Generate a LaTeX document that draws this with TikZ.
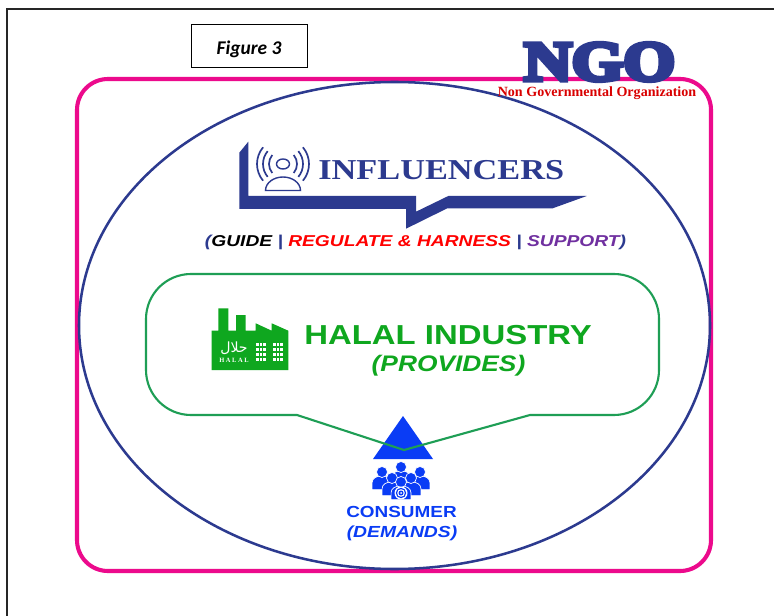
\documentclass[tikz,border=0pt]{standalone}
\usepackage{fontspec}
\setmainfont{Liberation Sans}
\newfontfamily\serfont{Liberation Serif}
\newfontfamily\ngofont[UprightFont=* Bold,FakeBold=8]{Liberation Serif}
\newfontfamily\figfont{Carlito}
\newfontfamily\arabicfont[Script=Arabic]{DejaVu Sans}
\TeXXeTstate=1
\usetikzlibrary{positioning,calc}
\definecolor{inkblue}{HTML}{2C3A8F}
\definecolor{framepink}{HTML}{EC0A8C}
\definecolor{halalgreen}{HTML}{0FA71F}
\definecolor{linegreen}{HTML}{1E9E55}
\definecolor{crowdblue}{HTML}{0A3CF5}
\definecolor{supportviolet}{HTML}{7030A0}
\tikzset{
  bubbletext/.style={inner sep=0pt,xscale=1.19,font=\serfont\bfseries\fontsize{20.5}{21}\selectfont,text=inkblue},
  roletext/.style={inner sep=0pt,xscale=1.22,font=\bfseries\itshape\fontsize{11.2}{12}\selectfont},
  halaltext/.style={inner sep=0pt,xscale=1.2,text=halalgreen,font=\bfseries\fontsize{19.5}{20}\selectfont},
  crowdtext/.style={inner sep=0pt,xscale=1.18,text=crowdblue,font=\bfseries\fontsize{11.4}{12}\selectfont},
}
\begin{document}
\begin{tikzpicture}[x=0.025cm,y=-0.025cm]
\useasboundingbox (0,0) rectangle (774,616);
\fill[white] (0,0) rectangle (774,616);
\draw[line width=1.1pt,black!85] (7,616) -- (7,9) -- (774,9);
\draw[line width=2.9pt,framepink,rounded corners=22pt] (77,79) rectangle (711,571);
\draw[line width=1.8pt,inkblue] (394.5,325.5) ellipse (315.5 and 243.5);
\node[draw,line width=0.6pt,minimum width=82.5pt,minimum height=30pt,inner sep=0pt,text height=12.8pt,text depth=0pt,font=\figfont\bfseries\itshape\fontsize{13.8}{14}\selectfont] (figlabel) at (249,46) {Figure 3};
\node[inner sep=0pt,text=inkblue,xscale=1.18,font=\ngofont\fontsize{40}{40}\selectfont] (ngo) at (599.5,62) {NGO};
\node[inner sep=0pt,text=red!85!black,font=\serfont\bfseries\fontsize{10}{10}\selectfont] (ngosub) at (597,93.5) {Non Governmental Organization};
\fill[inkblue] (239.3,152.7) -- (248.3,141.7) -- (248.3,196) -- (416,196) -- (416,211.7) -- (448.3,196) -- (586.7,196) -- (552.7,208.3) -- (447.3,208.3) -- (406,228.7) -- (406,209) -- (239.3,209) -- cycle;
\draw[inkblue,line width=1pt] (283,164) ellipse (6.5 and 5);
\foreach \rad in {14,20,26}{
  \draw[inkblue,line width=1.2pt] ($(283,164)+(140:\rad)$) arc (140:220:\rad);
  \draw[inkblue,line width=1.2pt] ($(283,164)+(40:\rad)$) arc (40:-40:\rad);
}
\draw[inkblue,line width=1pt,fill=white] (265.5,190.5) arc (180:360:17.5 and 13.5) -- cycle;
\node[bubbletext,anchor=west] (influencers) at (318,170) {INFLUENCERS};
\node[roletext] (roles) at (415.5,242) {\textcolor{inkblue}{(}\textcolor{black}{GUIDE} \textcolor{inkblue}{|} \textcolor{red}{REGULATE \& HARNESS} \textcolor{inkblue}{|} \textcolor{supportviolet}{SUPPORT}\textcolor{inkblue}{)}};
\fill[crowdblue] (403,416) -- (433,459) -- (373,459) -- cycle;
\draw[linegreen,line width=1.5pt] (404,450) -- (530,415) [rounded corners=32pt] -- (659,415) -- (659,274) -- (146,274) -- (146,415) [sharp corners] -- (297,415) -- cycle;
\fill[halalgreen] (211.7,330.7) -- (218.3,330.7) -- (218.3,308.3) -- (228.3,308.3) -- (228.3,330.7) -- (236,330.7) -- (236,315) -- (245.7,315) -- (245.7,330.7) -- (255.7,330.7) -- (255.7,323.3) -- (271.7,330.7) -- (271.7,323.3) -- (288.3,330.7) -- (288.3,370) -- (211.7,370) -- cycle;
\foreach \colx in {256,259.5,263,273,276.5,280}
  \foreach \rowy in {343,348,353,358}
    \fill[white] (\colx,\rowy) rectangle ++(2.6,3.4);
\node[inner sep=0pt,text=white,font=\arabicfont\fontsize{10}{10}\selectfont] (halalword) at (234,348) {\beginR حلال\endR};
\node[inner sep=0pt,text=white,font=\serfont\bfseries\fontsize{4.6}{5}\selectfont] (halalsmall) at (234,360.5) {H A L A L};
\node[halaltext,anchor=west] (industry) at (304,335) {HALAL INDUSTRY};
\node[halaltext,xscale=0.975,font=\bfseries\itshape\fontsize{16}{17}\selectfont] (provides) at (448.5,366) {(PROVIDES)};
\foreach \hx/\hy/\hr in {401/467/5.5,382/472/5.5,420/472/5.5,392/478/5.5,411/478/5.5,401/482/5.5}{
  \fill[crowdblue,draw=white,line width=0.5pt] (\hx-\hr*1.8,\hy+\hr*3.2) -- (\hx-\hr*1.8,\hy+\hr*1.9) .. controls (\hx-\hr*1.8,\hy+\hr*0.3) and (\hx+\hr*1.8,\hy+\hr*0.3) .. (\hx+\hr*1.8,\hy+\hr*1.9) -- (\hx+\hr*1.8,\hy+\hr*3.2) -- cycle;
  \fill[crowdblue,draw=white,line width=0.5pt] (\hx,\hy) circle (\hr);
}
\foreach \ringr/\ringc in {6.5/white,5.2/crowdblue,3.8/white,2.5/crowdblue,1/white}
  \fill[\ringc] (401,493) circle (\ringr);
\node[crowdtext] (consumer) at (401.5,512) {CONSUMER};
\node[crowdtext,xscale=1.02,font=\bfseries\itshape\fontsize{11.4}{12}\selectfont] (demands) at (402,533) {(DEMANDS)};
\end{tikzpicture}
\end{document}
